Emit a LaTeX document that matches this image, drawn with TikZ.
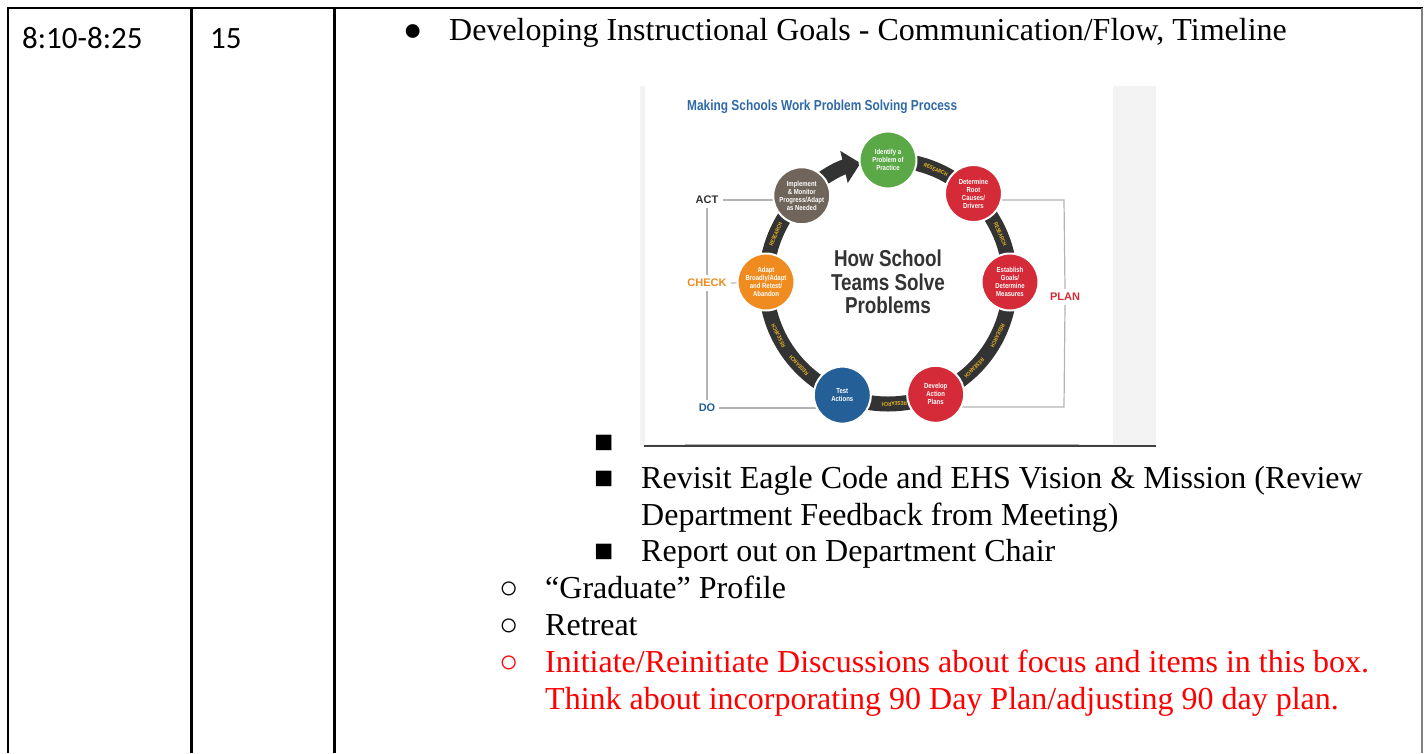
\documentclass[tikz,border=0pt]{standalone}
\usepackage{fontspec}
\setmainfont{Liberation Serif}
\newfontfamily\calibrifont{Carlito}
\newfontfamily\narrowfont{Liberation Sans}[FakeStretch=0.82]
\newfontfamily\labelfont{Liberation Sans}
\usetikzlibrary{calc, arrows.meta}

\definecolor{ringgray}{HTML}{333333}
\definecolor{stepgreen}{HTML}{5BA846}
\definecolor{stepred}{HTML}{D52B38}
\definecolor{stepblue}{HTML}{245F98}
\definecolor{steporange}{HTML}{F08C1F}
\definecolor{stepbrown}{HTML}{6F655B}
\definecolor{researchyellow}{HTML}{E9B824}
\definecolor{titleblue}{HTML}{2F6AA6}
\definecolor{linegray}{HTML}{B4B4B4}
\definecolor{panelgray}{HTML}{F3F3F3}
\definecolor{notered}{HTML}{FF0000}

\pgfdeclarelayer{background}
\pgfsetlayers{background,main}

\tikzset{
 stagecircle/.style={circle, draw=white, line width=2pt, minimum size=57pt, inner sep=0pt, text=white, align=center, font=\narrowfont\bfseries\fontsize{7.3}{8}\selectfont},
 research/.style={inner sep=0pt, text=researchyellow, font=\narrowfont\bfseries\fontsize{5.5}{5.5}\selectfont},
 band/.style={ringgray, line width=15pt},
 bracket/.style={linegray, line width=1.2pt},
 phase/.style={inner sep=4pt, font=\labelfont\bfseries\fontsize{11}{11}\selectfont},
 body/.style={anchor=base west, inner sep=0pt, font=\fontsize{32}{37}\selectfont},
 cell/.style={anchor=base west, inner sep=0pt, font=\calibrifont\fontsize{31}{37}\selectfont},
}

\begin{document}
\begin{tikzpicture}[x=1pt, y=1pt]
 \useasboundingbox (0,0) rectangle (1425,-753);
 \begin{pgfonlayer}{background}
 \fill[white] (0,0) rectangle (1425,-753);
 \fill[panelgray] (640,-86) rectangle (1156,-446);
 \fill[white] (645,-86) rectangle (1113,-444);
 \end{pgfonlayer}

 %表の枠
 \draw[line width=2.5pt] (7,-8) -- (1423,-8);
 \draw[line width=2.5pt] (8,-8) -- (8,-753);
 \draw[line width=2.5pt] (191.5,-8) -- (191.5,-753);
 \draw[line width=2.5pt] (334.5,-8) -- (334.5,-753);
 \draw[gray, line width=1.2pt] (1422,-8) -- (1422,-753);

 \node[cell] (time) at (22,-48) {8:10-8:25};
 \node[cell] (minutes) at (210,-48) {15};

 \node[body] (dot) at (403,-40) {●};
 \node[body] (goals) at (449,-40) {Developing Instructional Goals - Communication/Flow, Timeline};

 %図
 \draw[linegray] (685,-444) -- (1079,-444);
 \draw[black!75, line width=1.2pt] (644,-446) -- (1156,-446);

 \node[anchor=west, inner sep=0pt, text=titleblue, font=\narrowfont\bfseries\fontsize{14.5}{15}\selectfont] (title) at (687,-107) {Making Schools Work Problem Solving Process};

 \coordinate (O) at (888,-282);
 \draw[band] ([shift={(90:122)}]O) arc[start angle=90, end angle=-225, radius=122];
 \draw[band, -{Triangle[length=17pt, width=32pt]}] ([shift={(135:122)}]O) arc[start angle=135, end angle=103, radius=122];

 \node[research, rotate=-23] (r1) at ($(O)+(67:122)$) {RESEARCH};
 \node[research, rotate=-67] (r2) at ($(O)+(23:122)$) {RESEARCH};
 \node[research, rotate=-116] (r3) at ($(O)+(-26:122)$) {RESEARCH};
 \node[research, rotate=-135] (r4) at ($(O)+(-45:122)$) {RESEARCH};
 \node[research, rotate=-177] (r5) at ($(O)+(-87:122)$) {RESEARCH};
 \node[research, rotate=133] (r6) at ($(O)+(-137:122)$) {RESEARCH};
 \node[research, rotate=116] (r7) at ($(O)+(-154:122)$) {RESEARCH};
 \node[research, rotate=67] (r8) at ($(O)+(157:122)$) {RESEARCH};

 \node[stagecircle, fill=stepgreen] (identify) at ($(O)+(90:122)$) {Identify a\\Problem of\\Practice};
 \node[stagecircle, fill=stepred] (determine) at ($(O)+(46:123)$) {Determine\\Root\\Causes/\\Drivers};
 \node[stagecircle, fill=stepred] (establish) at ($(O)+(0:122)$) {Establish\\Goals/\\Determine\\Measures};
 \node[stagecircle, fill=stepred] (develop) at ($(O)+(-67:122)$) {Develop\\Action\\Plans};
 \node[stagecircle, fill=stepblue] (test) at ($(O)+(-112:122)$) {Test\\Actions};
 \node[stagecircle, fill=steporange] (adapt) at ($(O)+(180:122)$) {Adapt\\Broadly/Adapt\\and Retest/\\Abandon};
 \node[stagecircle, fill=stepbrown] (implement) at ($(O)+(135:122)$) {Implement\\\& Monitor\\Progress/Adapt\\as Needed};

 \node[align=center, text=ringgray, font=\narrowfont\bfseries\fontsize{23}{23.5}\selectfont] (center) at (O) {How School\\Teams Solve\\Problems};

 \node[phase, text=ringgray] (act) at (707,-200) {ACT};
 \node[phase, text=steporange] (check) at (707,-283) {CHECK};
 \node[phase, text=stepblue] (do) at (707,-408) {DO};
 \node[phase, text=stepred] (plan) at (1065,-297) {PLAN};
 \coordinate (plantop) at (1064,-200);
 \coordinate (planbot) at (1064,-407);

 \begin{pgfonlayer}{background}
 \draw[bracket] (act.east) -- (act.east -| implement.center);
 \draw[bracket] (act.south) -- (check.north);
 \draw[bracket] (check.south) -- (do.north);
 \draw[bracket] (check.east) -- (adapt.center);
 \draw[bracket] (do.east) -- (do.east -| test.center);
 \draw[bracket] (determine.center |- plantop) -- (plantop) -- (plan.north);
 \draw[bracket] (plan.south) -- (planbot) -- (develop.center |- planbot);
 \end{pgfonlayer}

 %箇条書き
 \node[body] (sq0) at (594,-452) {■};
 \node[body] (sq1) at (594,-488) {■};
 \node[body] (revisit) at (641,-488) {Revisit Eagle Code and EHS Vision \& Mission (Review};
 \node[body] (revisitb) at (641,-525) {Department Feedback from Meeting)};
 \node[body] (sq2) at (594,-561) {■};
 \node[body] (report) at (641,-561) {Report out on Department Chair};
 \node[body] (ring1) at (499,-598) {○};
 \node[body] (graduate) at (545,-598) {``Graduate'' Profile};
 \node[body] (ring2) at (499,-635) {○};
 \node[body] (retreat) at (545,-635) {Retreat};
 \node[body, text=notered] (ring3) at (499,-672) {○};
 \node[body, text=notered] (initiate) at (545,-672) {Initiate/Reinitiate Discussions about focus and items in this box.};
 \node[body, text=notered] (think) at (545,-709) {Think about incorporating 90 Day Plan/adjusting 90 day plan.};
\end{tikzpicture}
\end{document}
